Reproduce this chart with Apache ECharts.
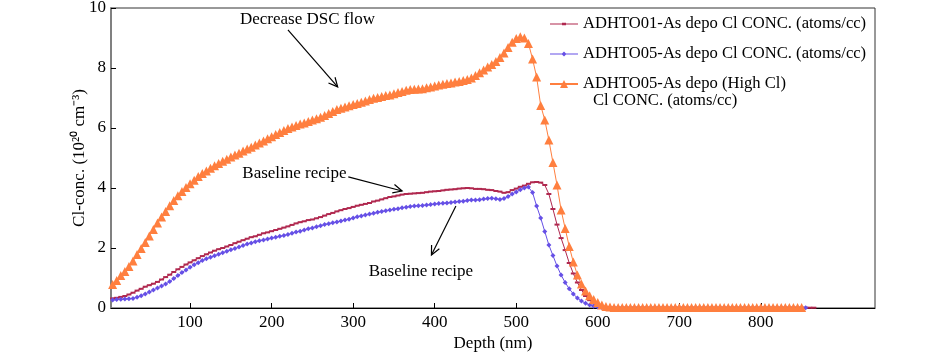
<!DOCTYPE html>
<html>
<head>
<meta charset="utf-8">
<script src="https://cdn.jsdelivr.net/npm/echarts@6/dist/echarts.min.js"></script>
<style>
html, body { margin: 0; padding: 0; background: #fff; }
#main { width: 945px; height: 354px; }
</style>
</head>
<body>
<div id="main"></div>
<script>
// depth (nm), one point every 5 nm
var depth = [
  5, 10, 15, 20, 25, 30, 35, 40, 45, 50,
  55, 60, 65, 70, 75, 80, 85, 90, 95, 100,
  105, 110, 115, 120, 125, 130, 135, 140, 145, 150,
  155, 160, 165, 170, 175, 180, 185, 190, 195, 200,
  205, 210, 215, 220, 225, 230, 235, 240, 245, 250,
  255, 260, 265, 270, 275, 280, 285, 290, 295, 300,
  305, 310, 315, 320, 325, 330, 335, 340, 345, 350,
  355, 360, 365, 370, 375, 380, 385, 390, 395, 400,
  405, 410, 415, 420, 425, 430, 435, 440, 445, 450,
  455, 460, 465, 470, 475, 480, 485, 490, 495, 500,
  505, 510, 515, 520, 525, 530, 535, 540, 545, 550,
  555, 560, 565, 570, 575, 580, 585, 590, 595, 600,
  605, 610, 615, 620, 625, 630, 635, 640, 645, 650,
  655, 660, 665, 670, 675, 680, 685, 690, 695, 700,
  705, 710, 715, 720, 725, 730, 735, 740, 745, 750,
  755, 760, 765, 770, 775, 780, 785, 790, 795, 800,
  805, 810, 815, 820, 825, 830, 835, 840, 845, 850,
  855, 860, 865
];

// ADHTO01-As depo (baseline)
var conc01 = [
  0.32, 0.34, 0.37, 0.40, 0.45, 0.51, 0.58, 0.64, 0.71, 0.76,
  0.81, 0.87, 0.95, 1.03, 1.11, 1.20, 1.29, 1.37, 1.45, 1.52,
  1.59, 1.66, 1.73, 1.79, 1.85, 1.91, 1.96, 2.00, 2.05, 2.10,
  2.16, 2.21, 2.26, 2.31, 2.36, 2.39, 2.44, 2.49, 2.52, 2.56,
  2.60, 2.64, 2.68, 2.72, 2.77, 2.82, 2.86, 2.89, 2.93, 2.95,
  2.99, 3.03, 3.08, 3.13, 3.17, 3.22, 3.26, 3.30, 3.33, 3.37,
  3.41, 3.44, 3.47, 3.50, 3.55, 3.58, 3.62, 3.66, 3.70, 3.72,
  3.75, 3.78, 3.80, 3.81, 3.82, 3.83, 3.84, 3.86, 3.88, 3.89,
  3.90, 3.92, 3.94, 3.95, 3.96, 3.98, 3.99, 4.00, 3.99, 3.97,
  3.97, 3.96, 3.94, 3.93, 3.90, 3.88, 3.84, 3.86, 3.93, 3.98,
  4.04, 4.08, 4.14, 4.19, 4.20, 4.18, 4.10, 3.80, 3.30, 2.78,
  2.33, 1.93, 1.50, 1.15, 0.85, 0.60, 0.40, 0.26, 0.15, 0.08,
  0.04, 0.02, 0.01, 0.01, 0.01, 0.01, 0.01, 0.01, 0.01, 0.01,
  0.01, 0.01, 0.01, 0.01, 0.01, 0.01, 0.01, 0.01, 0.01, 0.01,
  0.01, 0.01, 0.01, 0.01, 0.01, 0.01, 0.01, 0.01, 0.01, 0.01,
  0.01, 0.01, 0.01, 0.01, 0.01, 0.01, 0.01, 0.01, 0.01, 0.01,
  0.01, 0.01, 0.01, 0.01, 0.01, 0.01, 0.01, 0.01, 0.01, 0.01,
  0.01, 0.01, 0.01
];

// ADHTO05-As depo (baseline)
var conc05 = [
  0.27, 0.28, 0.29, 0.30, 0.31, 0.32, 0.36, 0.41, 0.47, 0.53,
  0.60, 0.67, 0.73, 0.80, 0.88, 0.98, 1.08, 1.18, 1.27, 1.36,
  1.44, 1.51, 1.58, 1.64, 1.69, 1.74, 1.79, 1.84, 1.89, 1.94,
  1.98, 2.03, 2.08, 2.13, 2.17, 2.21, 2.24, 2.27, 2.30, 2.33,
  2.36, 2.39, 2.42, 2.45, 2.49, 2.53, 2.56, 2.60, 2.64, 2.67,
  2.71, 2.74, 2.78, 2.81, 2.84, 2.87, 2.90, 2.93, 2.96, 3.00,
  3.04, 3.07, 3.10, 3.13, 3.16, 3.19, 3.22, 3.24, 3.27, 3.29,
  3.31, 3.34, 3.36, 3.38, 3.40, 3.41, 3.42, 3.43, 3.45, 3.47,
  3.48, 3.49, 3.50, 3.52, 3.53, 3.55, 3.56, 3.58, 3.60, 3.60,
  3.61, 3.63, 3.65, 3.66, 3.64, 3.62, 3.65, 3.72, 3.80, 3.87,
  3.94, 4.00, 4.03, 3.85, 3.40, 3.00, 2.55, 2.10, 1.75, 1.40,
  1.10, 0.85, 0.64, 0.47, 0.33, 0.23, 0.16, 0.10, 0.06, 0.03,
  0.02, 0.01, 0.01, 0.01, 0.01, 0.01, 0.01, 0.01, 0.01, 0.01,
  0.01, 0.01, 0.01, 0.01, 0.01, 0.01, 0.01, 0.01, 0.01, 0.01,
  0.01, 0.01, 0.01, 0.01, 0.01, 0.01, 0.01, 0.01, 0.01, 0.01,
  0.01, 0.01, 0.01, 0.01, 0.01, 0.01, 0.01, 0.01, 0.01, 0.01,
  0.01, 0.01, 0.01, 0.01, 0.01, 0.01, 0.01, 0.01, 0.01, 0.01,
  0.01
];

// ADHTO05-As depo (High Cl), decreased DSC flow
var conc05High = [
  0.78, 0.92, 1.08, 1.22, 1.38, 1.57, 1.78, 1.98, 2.18, 2.40,
  2.62, 2.83, 3.03, 3.22, 3.41, 3.58, 3.74, 3.88, 4.02, 4.14,
  4.26, 4.38, 4.48, 4.57, 4.66, 4.74, 4.82, 4.89, 4.96, 5.03,
  5.10, 5.16, 5.23, 5.30, 5.36, 5.43, 5.50, 5.57, 5.64, 5.71,
  5.78, 5.85, 5.92, 5.98, 6.03, 6.08, 6.13, 6.17, 6.22, 6.27,
  6.31, 6.36, 6.42, 6.48, 6.55, 6.62, 6.66, 6.70, 6.74, 6.78,
  6.82, 6.86, 6.90, 6.95, 6.99, 7.02, 7.05, 7.08, 7.10, 7.14,
  7.18, 7.22, 7.26, 7.28, 7.29, 7.30, 7.31, 7.34, 7.37, 7.40,
  7.43, 7.46, 7.48, 7.50, 7.53, 7.55, 7.58, 7.62, 7.67, 7.75,
  7.84, 7.93, 8.03, 8.12, 8.22, 8.35, 8.50, 8.68, 8.86, 8.98,
  9.04, 9.00, 8.82, 8.30, 7.70, 6.75, 6.27, 5.60, 4.85, 4.10,
  3.27, 2.65, 2.05, 1.53, 1.10, 0.80, 0.57, 0.41, 0.28, 0.18,
  0.10, 0.05, 0.03, 0.02, 0.02, 0.02, 0.02, 0.02, 0.02, 0.02,
  0.02, 0.02, 0.02, 0.02, 0.02, 0.02, 0.02, 0.02, 0.02, 0.02,
  0.02, 0.02, 0.02, 0.02, 0.02, 0.02, 0.02, 0.02, 0.02, 0.02,
  0.02, 0.02, 0.02, 0.02, 0.02, 0.02, 0.02, 0.02, 0.02, 0.02,
  0.02, 0.02, 0.02, 0.02, 0.02, 0.02, 0.02, 0.02, 0.02, 0.02
];

var seriesNames = [
  'ADHTO01-As depo Cl CONC. (atoms/cc)',
  'ADHTO05-As depo Cl CONC. (atoms/cc)',
  'ADHTO05-As depo (High Cl) Cl CONC. (atoms/cc)'
];
var xTicks = [100, 200, 300, 400, 500, 600, 700, 800];

// annotations, in data units: label centre, arrow start, arrow end
var notes = [
  { text: 'Decrease DSC flow', at: [244, 9.6], from: [220, 9.27], to: [281, 7.37] },
  { text: 'Baseline recipe', at: [228, 4.47], from: [294, 4.37], to: [360, 3.9] },
  { text: 'Baseline recipe', at: [383, 1.2], from: [426, 3.4], to: [396, 1.77] }
];

var font = 'Liberation Serif';

function pairs(vals) {
  return vals.map(function (v, i) { return [depth[i], v]; });
}

var myChart = echarts.init(document.getElementById('main'));

var option = {
  backgroundColor: '#fff',
  animation: false,
  textStyle: { fontFamily: font },
  grid: {
    left: 111, right: 70, top: 8, bottom: 46,
    containLabel: false,
    outerBoundsMode: 'none',
    show: true, borderColor: '#333', borderWidth: 1
  },
  legend: {
    orient: 'vertical',
    left: 544, top: 10,
    itemWidth: 28, itemHeight: 10, itemGap: 12,
    selectedMode: false,
    data: [
      { name: seriesNames[0], icon: 'path://M0,4.5L28,4.5L28,5.5L0,5.5Z M12,3.8L16,3.8L16,6.2L12,6.2Z' },
      { name: seriesNames[1], icon: 'path://M0,4.5L28,4.5L28,5.5L0,5.5Z M14,2.5L16.5,5L14,7.5L11.5,5Z' },
      { name: seriesNames[2] }
    ],
    formatter: function (name) {
      return name.indexOf('High Cl') > 0 ? 'ADHTO05-As depo (High Cl)' : name;
    },
    textStyle: { fontFamily: font, fontSize: 16.6, lineHeight: 18, color: '#000' }
  },
  xAxis: {
    type: 'value',
    min: 3, max: 940,
    name: 'Depth (nm)',
    nameLocation: 'middle',
    nameGap: 27,
    nameMoveOverlap: false,
    nameTextStyle: { fontFamily: font, fontSize: 17, color: '#000' },
    axisLine: { lineStyle: { color: '#000', width: 1 } },
    axisTick: { inside: true, length: 5, customValues: xTicks, lineStyle: { color: '#000' } },
    axisLabel: { customValues: xTicks, margin: 6, fontFamily: font, fontSize: 17, color: '#000' },
    splitLine: { show: false }
  },
  yAxis: {
    type: 'value',
    min: 0, max: 10, interval: 2,
    name: 'Cl-conc. (10²⁰ cm⁻³)',
    nameLocation: 'middle',
    nameGap: 23,
    nameMoveOverlap: false,
    nameTextStyle: { fontFamily: font, fontSize: 17, color: '#000' },
    axisLine: { show: true, lineStyle: { color: '#808080', width: 2 } },
    axisTick: { inside: true, length: 5, lineStyle: { color: '#000' } },
    axisLabel: { margin: 5, fontFamily: font, fontSize: 17, color: '#000' },
    splitLine: { show: false }
  },
  series: [
    {
      name: seriesNames[0],
      type: 'line',
      data: pairs(conc01),
      symbol: 'rect',
      symbolSize: [5, 2],
      itemStyle: { color: '#b0284f' },
      lineStyle: { color: '#b0284f', width: 1 }
    },
    {
      name: seriesNames[1],
      type: 'line',
      data: pairs(conc05),
      symbol: 'diamond',
      symbolSize: 5,
      itemStyle: { color: '#6650e6' },
      lineStyle: { color: '#6650e6', width: 1 }
    },
    {
      name: seriesNames[2],
      type: 'line',
      data: pairs(conc05High),
      symbol: 'triangle',
      symbolSize: 9,
      itemStyle: { color: '#ff7f3f' },
      lineStyle: { color: '#ff7f3f', width: 1 }
    }
  ]
};

myChart.setOption(option);

// texts and arrows, placed through the chart's own scales
var graphics = [{
  type: 'text',
  left: 593, top: 92,
  style: { text: 'Cl CONC. (atoms/cc)', fontFamily: font, fontSize: 16.6, fill: '#000' }
}];
notes.forEach(function (n) {
  var c = myChart.convertToPixel({ gridIndex: 0 }, n.at);
  var a = myChart.convertToPixel({ gridIndex: 0 }, n.from);
  var b = myChart.convertToPixel({ gridIndex: 0 }, n.to);
  graphics.push({
    type: 'text',
    x: c[0], y: c[1],
    style: { text: n.text, fontFamily: font, fontSize: 17, fill: '#000', align: 'center', verticalAlign: 'middle' }
  });
  graphics.push({
    type: 'line',
    shape: { x1: a[0], y1: a[1], x2: b[0], y2: b[1] },
    style: { stroke: '#000', lineWidth: 1.2 }
  });
  var ang = Math.atan2(b[1] - a[1], b[0] - a[0]);
  var len = 10, spread = 0.45;
  graphics.push({
    type: 'polyline',
    shape: {
      points: [
        [b[0] - len * Math.cos(ang - spread), b[1] - len * Math.sin(ang - spread)],
        [b[0], b[1]],
        [b[0] - len * Math.cos(ang + spread), b[1] - len * Math.sin(ang + spread)]
      ]
    },
    style: { stroke: '#000', lineWidth: 1.2, fill: null }
  });
});
myChart.setOption({ graphic: graphics });
</script>
</body>
</html>
